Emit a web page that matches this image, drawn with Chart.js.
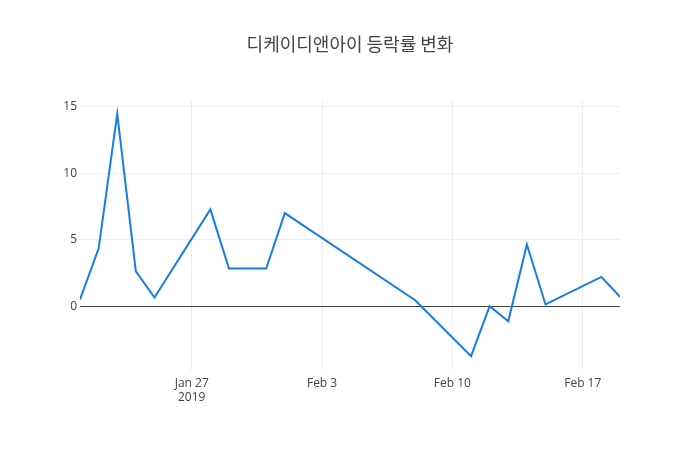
<!DOCTYPE html>
<html>
<head>
<meta charset="utf-8">
<script src="https://cdn.jsdelivr.net/npm/chart.js@4/dist/chart.umd.min.js"></script>
<style>
  html, body { margin: 0; padding: 0; background: #fff; }
  #wrap { width: 700px; height: 450px; }
</style>
</head>
<body>
<div id="wrap"><canvas id="c" width="700" height="450"></canvas></div>
<script>
const chartTitle = '디케이디앤아이 등락률 변화';
const dates = ['2019-01-21','2019-01-22','2019-01-23','2019-01-24','2019-01-25',
               '2019-01-28','2019-01-29','2019-01-31','2019-02-01','2019-02-08',
               '2019-02-11','2019-02-12','2019-02-13','2019-02-14','2019-02-15',
               '2019-02-18','2019-02-19'];
const changes = [0.55, 4.36, 14.43, 2.66, 0.70,
                 7.29, 2.86, 2.86, 7.01, 0.50,
                 -3.68, 0.05, -1.07, 4.66, 0.18,
                 2.24, 0.75];
const xTickDates = ['2019-01-27','2019-02-03','2019-02-10','2019-02-17'];
const xRange = ['2019-01-21','2019-02-19'];
const yTicks = [0, 5, 10, 15];
const yRange = [-4.72, 15.42];
const monthNames = ['Jan','Feb','Mar','Apr','May','Jun','Jul','Aug','Sep','Oct','Nov','Dec'];

function toDay(s) {
  const p = s.split('-').map(Number);
  return Date.UTC(p[0], p[1] - 1, p[2]) / 864e5;
}
function fmtDay(d, first) {
  const dt = new Date(d * 864e5);
  const lbl = monthNames[dt.getUTCMonth()] + ' ' + dt.getUTCDate();
  return first ? [lbl, String(dt.getUTCFullYear())] : lbl;
}

const points = dates.map((d, i) => ({ x: toDay(d), y: changes[i] }));
const xTickVals = xTickDates.map(toDay);
const font = { family: '"Open Sans", "Noto Sans CJK KR", sans-serif', size: 12 };

new Chart(document.getElementById('c'), {
  type: 'line',
  data: {
    datasets: [{
      data: points,
      borderColor: 'rgb(22,124,232)',
      borderWidth: 2,
      pointRadius: 0,
      tension: 0,
      fill: false
    }]
  },
  options: {
    responsive: false,
    animation: false,
    layout: { padding: 0 },
    plugins: {
      legend: { display: false },
      tooltip: { enabled: false },
      title: {
        display: true,
        text: chartTitle,
        color: '#444',
        font: { family: '"Noto Sans CJK KR", "Open Sans", sans-serif', size: 18, weight: 'normal' },
        padding: { top: 33, bottom: 46 }
      }
    },
    scales: {
      x: {
        type: 'linear',
        min: toDay(xRange[0]),
        max: toDay(xRange[1]),
        afterBuildTicks: (axis) => { axis.ticks = xTickVals.map(v => ({ value: v })); },
        afterFit: (axis) => { axis.height = 80; },
        border: { display: false },
        grid: { color: '#eee', lineWidth: 1, drawTicks: false },
        ticks: {
          color: '#444',
          font: font,
          padding: 6,
          maxRotation: 0,
          autoSkip: false,
          callback: (v, i) => fmtDay(v, i === 0)
        }
      },
      y: {
        type: 'linear',
        min: yRange[0],
        max: yRange[1],
        afterBuildTicks: (axis) => { axis.ticks = yTicks.map(v => ({ value: v })); },
        afterFit: (axis) => { axis.width = 80; },
        border: { display: false },
        grid: {
          color: (ctx) => (ctx.tick && ctx.tick.value === 0) ? '#444' : '#eee',
          lineWidth: 1,
          drawTicks: false
        },
        ticks: { color: '#444', font: font, padding: 3 }
      },
      yRight: {
        type: 'linear',
        position: 'right',
        min: yRange[0],
        max: yRange[1],
        afterFit: (axis) => { axis.width = 80; },
        border: { display: false },
        grid: { display: false, drawOnChartArea: false },
        ticks: { display: false }
      }
    }
  }
});
</script>
</body>
</html>
